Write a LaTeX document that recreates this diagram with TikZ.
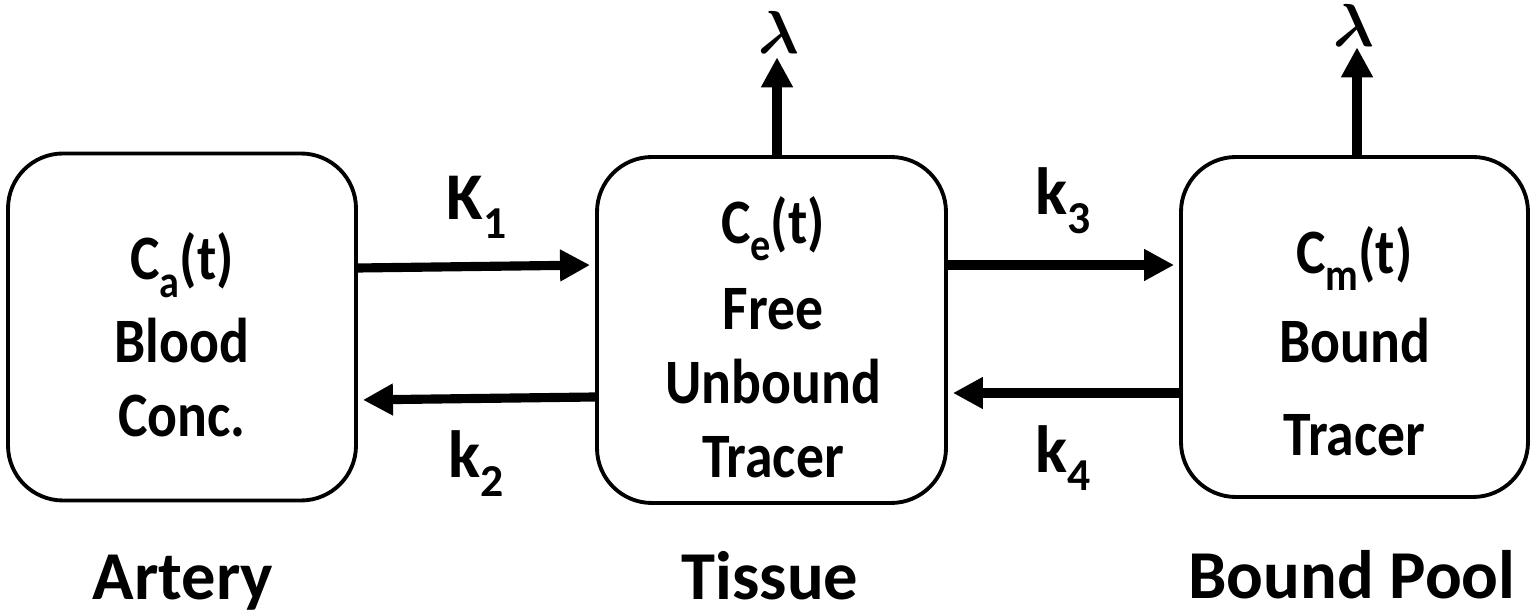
\documentclass[tikz,border=0pt]{standalone}
\usepackage{fontspec}
\setmainfont{Carlito}
\newfontfamily\narrowfont{Carlito}[FakeStretch=0.88]
\usepackage{bm}
\usepackage{tikz}
\usetikzlibrary{arrows.meta, positioning}

\newcommand{\lowidx}[1]{\raisebox{-0.28em}{\fontsize{13}{13}\selectfont #1}}

\tikzset{
  comp/.style={draw, line width=1.1pt, rounded corners=0.55cm},
  inside/.style={align=center, font=\fontsize{18}{21}\selectfont\narrowfont\bfseries},
  flow/.style={line width=2.6pt, -{Triangle[length=0.3cm, width=0.3cm]}, shorten >=0.05cm},
  rise/.style={line width=2.6pt, -{Triangle[length=0.3cm, width=0.3cm]}},
  rate/.style={font=\fontsize{19}{21}\selectfont\bfseries},
  region/.style={anchor=base, font=\fontsize{19.5}{22}\selectfont\bfseries},
  decay/.style={inner sep=0pt, font=\fontsize{18.5}{18.5}\selectfont}
}

\begin{document}
\begin{tikzpicture}
\useasboundingbox (0,0) rectangle (15.35,6.15);
\node[comp, minimum width=3.48cm, minimum height=3.47cm] (art) at (1.82,2.88) {};
\node[comp, minimum width=3.49cm, minimum height=3.46cm] (tis) at (7.715,2.85) {};
\node[comp, minimum width=3.47cm, minimum height=3.40cm] (bnd) at (13.545,2.88) {};
\node[inside] (arttxt) at (1.82,2.80) {C\lowidx{a}(t)\\[0.15em]Blood\\Conc.};
\node[inside] (tistxt) at (7.73,2.78) {C\lowidx{e}(t)\\[0.2em]Free\\Unbound\\Tracer};
\node[inside] (bndtxt) at (13.545,2.74) {C\lowidx{m}(t)\\[0.25em]Bound\\[0.3em]Tracer};
\node[decay] (lam1) at (7.79,5.825) {$\bm\lambda$};
\node[decay] (lam2) at (13.54,5.895) {$\bm\lambda$};
\node[region] (artlbl) at (1.83,0.15) {Artery};
\node[region] (tislbl) at (7.70,0.15) {Tissue};
\node[region] (bndlbl) at (13.52,0.16) {Bound Pool};
\draw[flow] ([yshift=0.59cm]art.east) -- node[rate, above=0.12cm] (K1) {K\lowidx{1}} ([yshift=0.65cm]tis.west);
\draw[flow] ([yshift=-0.67cm]tis.west) -- node[rate, below=0.16cm] (k2) {k\lowidx{2}} ([yshift=-0.73cm]art.east);
\draw[flow] ([yshift=0.65cm]tis.east) -- node[rate, above=0.15cm] (k3) {k\lowidx{3}} ([yshift=0.62cm]bnd.west);
\draw[flow] ([yshift=-0.66cm]bnd.west) -- node[rate, below=0.16cm] (k4) {k\lowidx{4}} ([yshift=-0.63cm]tis.east);
\draw[rise] (tis.north -| lam1) ++(-0.02,0) coordinate (t0) (t0) -- ([yshift=-0.03cm]lam1.south -| t0);
\draw[rise] (bnd.north -| lam2) ++(0.03,0) coordinate (b0) (b0) -- (lam2.south -| b0);
\end{tikzpicture}
\end{document}
